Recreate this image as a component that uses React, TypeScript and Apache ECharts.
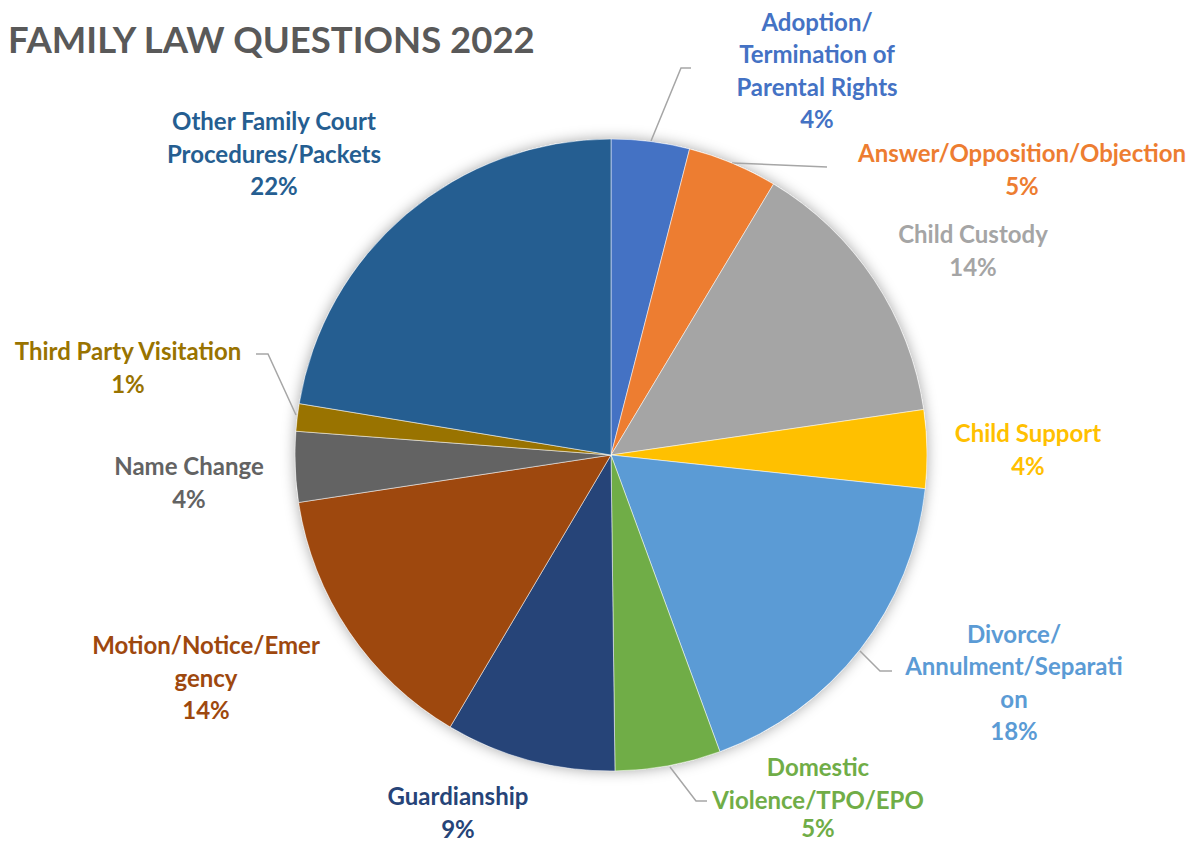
import React, { useEffect, useRef } from "react";
import * as echarts from "echarts";

const categories = [
  "Adoption/Termination of Parental Rights",
  "Answer/Opposition/Objection",
  "Child Custody",
  "Child Support",
  "Divorce/Annulment/Separation",
  "Domestic Violence/TPO/EPO",
  "Guardianship",
  "Motion/Notice/Emergency",
  "Name Change",
  "Third Party Visitation",
  "Other Family Court Procedures/Packets",
];

// wrapped label text as shown in the chart
const labelNames = [
  "Adoption/\nTermination of\nParental Rights",
  "Answer/Opposition/Objection",
  "Child Custody",
  "Child Support",
  "Divorce/\nAnnulment/Separati\non",
  "Domestic\nViolence/TPO/EPO",
  "Guardianship",
  "Motion/Notice/Emer\ngency",
  "Name Change",
  "Third Party Visitation",
  "Other Family Court\nProcedures/Packets",
];

// shares (in tenths of a percent)
const values = [40, 46, 141, 40, 177, 54, 87, 141, 36, 14, 224];

const colors = [
  "#4472C4", "#ED7D31", "#A5A5A5", "#FFC000", "#5B9BD5", "#70AD47",
  "#264478", "#9E480E", "#636363", "#997300", "#255E91",
];

// label centres and leader lines (layout only)
const labelPos: [number, number][] = [
  [817, 70], [1022, 169], [973, 250], [1028, 449], [1014, 682], [818, 795],
  [458, 812], [206, 677], [189, 482], [128, 367], [274, 153],
];
const leaderLines: ([number, number][] | null)[] = [
  [[651, 141], [681, 68], [691, 68]],
  [[732, 163], [780, 165], [827, 167]],
  null,
  null,
  [[860, 651], [880, 671], [892, 671]],
  [[670, 767], [696, 801], [707, 801]],
  null,
  null,
  null,
  [[296, 415], [268, 354], [256, 354]],
  null,
];

const FONT = "Lato, 'Open Sans', sans-serif";

export default function App() {
  const ref = useRef<HTMLDivElement>(null);
  useEffect(() => {
    document.body.style.margin = "0";
    const chart = echarts.init(ref.current!, undefined, { renderer: "svg" });
    chart.setOption({
      animation: false,
      backgroundColor: "#ffffff",
      title: {
        text: "FAMILY LAW QUESTIONS 2022",
        left: 3,
        top: 15,
        textStyle: { fontFamily: FONT, fontSize: 36.5, fontWeight: "bold", color: "#595959" },
      },
      series: [
        {
          type: "pie",
          silent: true,
          center: [611, 455],
          radius: 316,
          z: 1,
          label: { show: false },
          labelLine: { show: false },
          itemStyle: { color: "#ffffff", shadowBlur: 14, shadowColor: "rgba(0,0,0,0.35)" },
          data: [{ value: 1, name: "" }],
        },
        {
          type: "pie",
          center: [611, 455],
          radius: 316,
          z: 2,
          startAngle: 90,
          clockwise: true,
          percentPrecision: 0,
          itemStyle: { borderColor: "#ffffff", borderWidth: 0.5 },
          label: {
            show: true,
            position: "outside",
            fontFamily: FONT,
            fontSize: 24,
            fontWeight: "bold",
            lineHeight: 32.5,
            align: "center",
            overflow: "none",
            edgeDistance: 0,
            bleedMargin: 0,
            rich: {
              p: { fontFamily: FONT, fontSize: 24, fontWeight: "bold", lineHeight: 24 },
            },
            formatter: (p: any) =>
              p.dataIndex === 5
                ? `${labelNames[p.dataIndex]}\n{p|${p.percent}%}`
                : `${labelNames[p.dataIndex]}\n${p.percent}%`,
          },
          labelLine: { show: true, lineStyle: { color: "#A6A6A6", width: 1.5 } },
          labelLayout: (params: any) => {
            const i = params.dataIndex;
            const res: any = {
              x: labelPos[i][0],
              y: labelPos[i][1],
              align: "center",
              verticalAlign: "middle",
            };
            if (leaderLines[i]) res.labelLinePoints = leaderLines[i];
            return res;
          },
          data: categories.map((c, i) => ({
            name: c,
            value: values[i],
            itemStyle: { color: colors[i] },
            label: { color: colors[i], rich: { p: { color: colors[i] } } },
            labelLine: { show: !!leaderLines[i] },
          })),
        },
      ],
    });
    return () => chart.dispose();
  }, []);
  return <div ref={ref} style={{ width: 1200, height: 842 }} />;
}
